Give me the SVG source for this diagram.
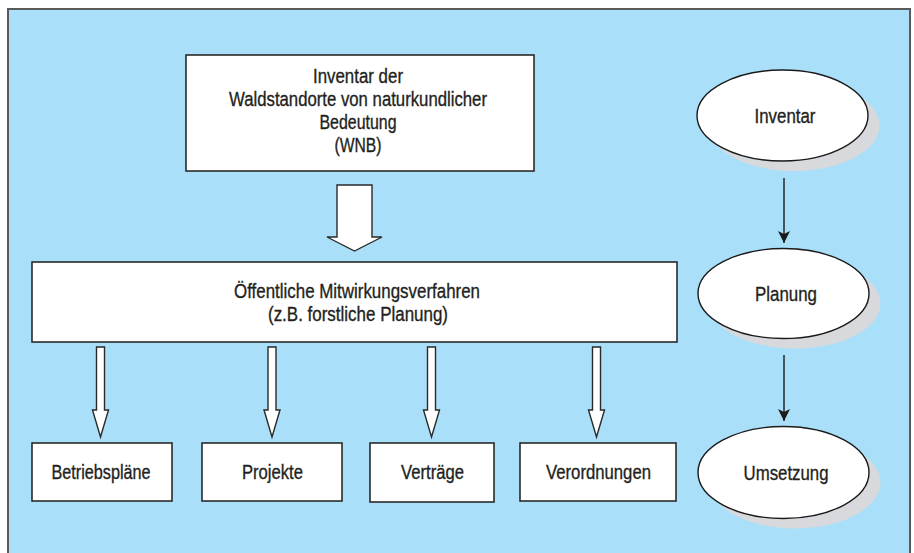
<svg xmlns="http://www.w3.org/2000/svg" width="914" height="553" viewBox="0 0 914 553">
<style>
  .bg { fill: #aadff9; stroke: #5a5a5a; stroke-width: 2; }
  .box { fill: #ffffff; stroke: #2a2a2a; stroke-width: 1.6; }
  .ell { fill: #ffffff; stroke: #1a1a1a; stroke-width: 1.4; }
  .shadow { fill: #d7d9dc; stroke: none; }
  .blk { fill: #ffffff; stroke: #2a2a2a; stroke-width: 1.4; stroke-linejoin: miter; }
  .line { stroke: #1a1a1a; stroke-width: 1.4; fill: none; }
  text { font-family: "Liberation Sans", Arial, sans-serif; font-size: 20.5px; fill: #231f20; stroke: #231f20; stroke-width: 0.35; text-anchor: middle; }
</style>
<defs>
  <marker id="ah" viewBox="0 0 12 18" refX="12" refY="9" markerWidth="12" markerHeight="18" markerUnits="userSpaceOnUse" orient="auto">
    <path d="M0,3 L12,9 L0,15 L3,9 Z" fill="#1a1a1a"/>
  </marker>
</defs>
<rect class="bg" x="8" y="9" width="902" height="560"/>

<g id="wnb">
  <rect class="box" x="186" y="55" width="348" height="116"/>
  <text x="358" y="83" textLength="90" lengthAdjust="spacingAndGlyphs">Inventar der</text>
  <text x="358" y="106" textLength="258" lengthAdjust="spacingAndGlyphs">Waldstandorte von naturkundlicher</text>
  <text x="358" y="129" textLength="77" lengthAdjust="spacingAndGlyphs">Bedeutung</text>
  <text x="358" y="152" textLength="47" lengthAdjust="spacingAndGlyphs">(WNB)</text>
</g>

<g id="verfahren">
  <rect class="box" x="32" y="262" width="645" height="80"/>
  <text x="357" y="298" textLength="246" lengthAdjust="spacingAndGlyphs">Öffentliche Mitwirkungsverfahren</text>
  <text x="358" y="321" textLength="180" lengthAdjust="spacingAndGlyphs">(z.B. forstliche Planung)</text>
</g>

<g id="betriebsplaene">
  <rect class="box" x="32" y="443" width="140" height="58"/>
  <text x="101" y="479" textLength="99" lengthAdjust="spacingAndGlyphs">Betriebspläne</text>
</g>
<g id="projekte">
  <rect class="box" x="202" y="443" width="140" height="58"/>
  <text x="272.5" y="479" textLength="61" lengthAdjust="spacingAndGlyphs">Projekte</text>
</g>
<g id="vertraege">
  <rect class="box" x="370" y="443" width="124" height="59"/>
  <text x="432.5" y="479" textLength="63" lengthAdjust="spacingAndGlyphs">Verträge</text>
</g>
<g id="verordnungen">
  <rect class="box" x="520" y="443" width="156" height="58"/>
  <text x="598.5" y="479" textLength="105" lengthAdjust="spacingAndGlyphs">Verordnungen</text>
</g>

<g id="inventar">
  <ellipse class="shadow" cx="794" cy="125.5" rx="85.5" ry="45.5"/>
  <ellipse class="ell" cx="782.5" cy="115.5" rx="85.5" ry="45.5"/>
  <text x="785" y="123" textLength="61" lengthAdjust="spacingAndGlyphs">Inventar</text>
</g>
<g id="planung">
  <ellipse class="shadow" cx="795" cy="303.5" rx="85.5" ry="45"/>
  <ellipse class="ell" cx="783.5" cy="293.5" rx="85.5" ry="45"/>
  <text x="786" y="301" textLength="62" lengthAdjust="spacingAndGlyphs">Planung</text>
</g>
<g id="umsetzung">
  <ellipse class="shadow" cx="795" cy="482.5" rx="85.5" ry="46"/>
  <ellipse class="ell" cx="783.5" cy="472.5" rx="85.5" ry="46"/>
  <text x="786" y="480" textLength="85" lengthAdjust="spacingAndGlyphs">Umsetzung</text>
</g>

<g id="connectors">
  <path class="blk" d="M337,185 H372 V237 H382 L354.5,251 L327,237 H337 Z"/>
  <path class="blk" d="M96.5,347 H104.5 V410 H108.5 L100.5,437 L92.5,410 H96.5 Z"/>
  <path class="blk" d="M268,347 H276 V410 H280 L272,437 L264,410 H268 Z"/>
  <path class="blk" d="M427.5,347 H435.5 V410 H439.5 L431.5,437 L423.5,410 H427.5 Z"/>
  <path class="blk" d="M592.5,347 H600.5 V410 H604.5 L596.5,437 L588.5,410 H592.5 Z"/>
  <line class="line" x1="784" y1="178" x2="784" y2="243" marker-end="url(#ah)"/>
  <line class="line" x1="784" y1="355" x2="784" y2="421" marker-end="url(#ah)"/>
</g>
</svg>
